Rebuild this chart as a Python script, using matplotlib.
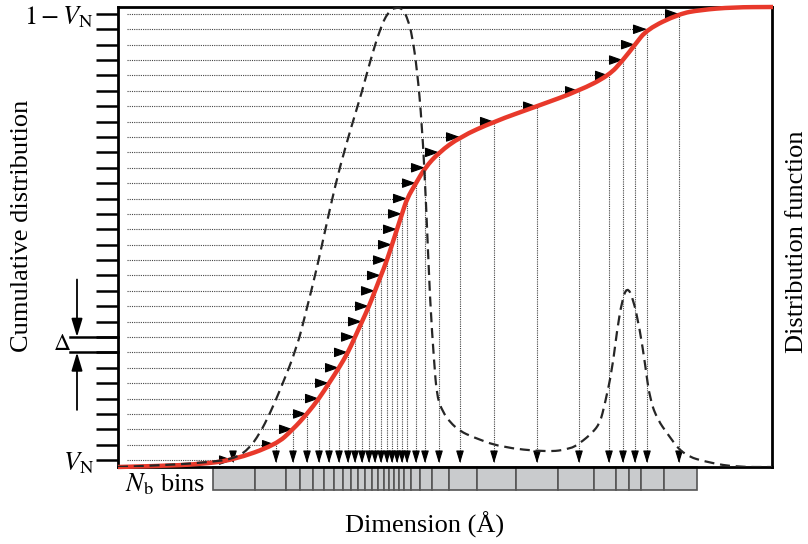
import matplotlib.pyplot as plt
import numpy as np
from matplotlib.path import Path
from matplotlib.patches import PathPatch

plt.rcParams['font.family'] = 'Liberation Serif'
plt.rcParams['mathtext.fontset'] = 'stix'

# dimension in arbitrary units (0..654), cumulative distribution 0..1
v_n = 0.015
n_levels = 30

# dimension reached by each cumulative level (one per bin)
quantile_x = [115, 158, 175, 189, 201, 211, 221, 230, 237, 244, 251, 257, 263, 269, 274,
              279, 284, 289, 298, 307, 321, 342, 376, 419, 461, 491, 505, 517, 529, 561]
# edges of the N_b bins
bin_edges = [95, 137, 168, 182, 195, 206, 216, 225, 233, 240, 247, 254, 260, 266, 271, 276,
             281, 286, 293, 302, 314, 331, 359, 398, 440, 476, 498, 511, 523, 546, 579]

# cumulative curve outside the level range
cdf_head_x = [0, 40, 82]
cdf_head_y = [0.0, 0.002, 0.006]
cdf_tail_x = [582, 615, 655]
cdf_tail_y = [0.9935, 0.9995, 1.0]

# distribution function (dashed), arbitrary units
dist_x = [0, 52, 92, 115, 130, 142, 152, 162, 179, 189, 199, 212, 222, 234, 244, 252, 262, 270,
          278, 285, 290, 294, 299, 304, 308, 312, 316, 319, 325, 332, 342, 355, 382, 429, 452,
          462, 474, 482, 487, 494, 499, 504, 509, 515, 522, 527, 532, 540, 549, 565, 592, 619, 654]
dist_y = [0, 2, 5, 8, 17, 34, 54, 77, 120, 160, 200, 260, 302, 344, 377, 407, 440, 457,
          462, 460, 449, 434, 400, 344, 267, 167, 107, 70, 55, 45, 36, 30, 20, 15, 18,
          24, 34, 44, 64, 97, 137, 167, 181, 170, 137, 104, 67, 47, 34, 12, 4, 0, 0]

delta = (1 - 2 * v_n) / (n_levels - 1)
levels = v_n + delta * np.arange(n_levels)


def curve_path(xs, ys):
    # quadratic bezier through the midpoints, read points as control points
    pts = np.column_stack([xs, ys]).astype(float)
    verts = [pts[0]]
    codes = [Path.MOVETO]
    for i in range(1, len(pts) - 1):
        verts += [pts[i], (pts[i] + pts[i + 1]) / 2]
        codes += [Path.CURVE3, Path.CURVE3]
    verts.append(pts[-1])
    codes.append(Path.LINETO)
    return Path(verts, codes)


fig = plt.figure(figsize=(8.08, 5.44), dpi=100)
ax = fig.add_axes([118 / 808, 77 / 544, 654 / 808, 460 / 544])
ax.set_xlim(0, 654)
ax.set_ylim(0, 1)
for s in ax.spines.values():
    s.set_linewidth(2.0)

guide = dict(colors='#444444', lw=0.8, linestyles=(0, (1, 1)))
ax.hlines(levels, 9, quantile_x, **guide)
ax.vlines(quantile_x, 0.01, levels, **guide)

for x, y in zip(quantile_x, levels):
    ax.annotate('', xy=(x, y), xytext=(-8, 0), textcoords='offset points',
                arrowprops=dict(arrowstyle='-|>,head_length=0.85,head_width=0.3',
                                color='black', lw=0.8, shrinkA=0, shrinkB=0, mutation_scale=10))
    ax.annotate('', xy=(x, 0.008), xytext=(0, 7), textcoords='offset points',
                arrowprops=dict(arrowstyle='-|>,head_length=0.75,head_width=0.23',
                                color='black', lw=0.8, shrinkA=0, shrinkB=0, mutation_scale=10))

cdf_x = cdf_head_x + quantile_x + cdf_tail_x
cdf_y = cdf_head_y + list(levels) + cdf_tail_y
ax.add_patch(PathPatch(curve_path(cdf_x, cdf_y), facecolor='none', edgecolor='#e8392b',
                       lw=3.2, capstyle='butt', clip_on=False, zorder=5))

# bins below the axis
ax.bar(bin_edges[:-1], [0.05] * (len(bin_edges) - 1), width=np.diff(bin_edges), bottom=-0.05,
       align='edge', color='#c9cbcd', edgecolor='#555555', lw=1.2, clip_on=False, zorder=1)

# cumulative levels as ticks
ax.set_xticks([])
ax.set_yticks(levels)
labels = [''] * n_levels
labels[0] = r'$V_{\mathrm{N}}$'
labels[-1] = r'$1 - V_{\mathrm{N}}$'
ax.set_yticklabels(labels, fontsize=19)
ax.tick_params(axis='y', length=16, width=1.8, pad=1)

# Delta marker
for k in (7, 8):
    ax.plot([-48, 0], [levels[k], levels[k]], color='black', lw=1.8, clip_on=False)
ax.annotate('', xy=(-41, levels[8]), xytext=(-41, levels[8] + 0.125),
            arrowprops=dict(arrowstyle='-|>,head_length=1.1,head_width=0.33',
                            color='black', lw=1.3, shrinkA=0, shrinkB=0, mutation_scale=10),
            annotation_clip=False)
ax.annotate('', xy=(-41, levels[7]), xytext=(-41, levels[7] - 0.125),
            arrowprops=dict(arrowstyle='-|>,head_length=1.1,head_width=0.33',
                            color='black', lw=1.3, shrinkA=0, shrinkB=0, mutation_scale=10),
            annotation_clip=False)
ax.text(-56, (levels[7] + levels[8]) / 2, r'$\Delta$', fontsize=17, ha='center', va='center')

ax.text(87, -0.038, r'$N_{\mathrm{b}}$ bins', fontsize=19, ha='right', va='center')

ax.set_xlabel('Dimension (Å)', fontsize=19)
ax.xaxis.set_label_coords(0.469, -0.098)
ax.set_ylabel('Cumulative distribution', fontsize=19)
ax.yaxis.set_label_coords(-0.13, 0.524)

# distribution function on its own scale
ax2 = ax.twinx()
ax2.set_ylim(0, 462)
ax2.set_yticks([])
for s in ax2.spines.values():
    s.set_visible(False)
ax2.add_patch(PathPatch(curve_path(dist_x, dist_y), facecolor='none', edgecolor='#262626',
                        lw=1.6, linestyle=(0, (4.5, 2.6))))
ax2.set_ylabel('Distribution function', fontsize=19)
ax2.yaxis.set_label_coords(1.022, 0.489)

fig.savefig('out.png', dpi=100)
